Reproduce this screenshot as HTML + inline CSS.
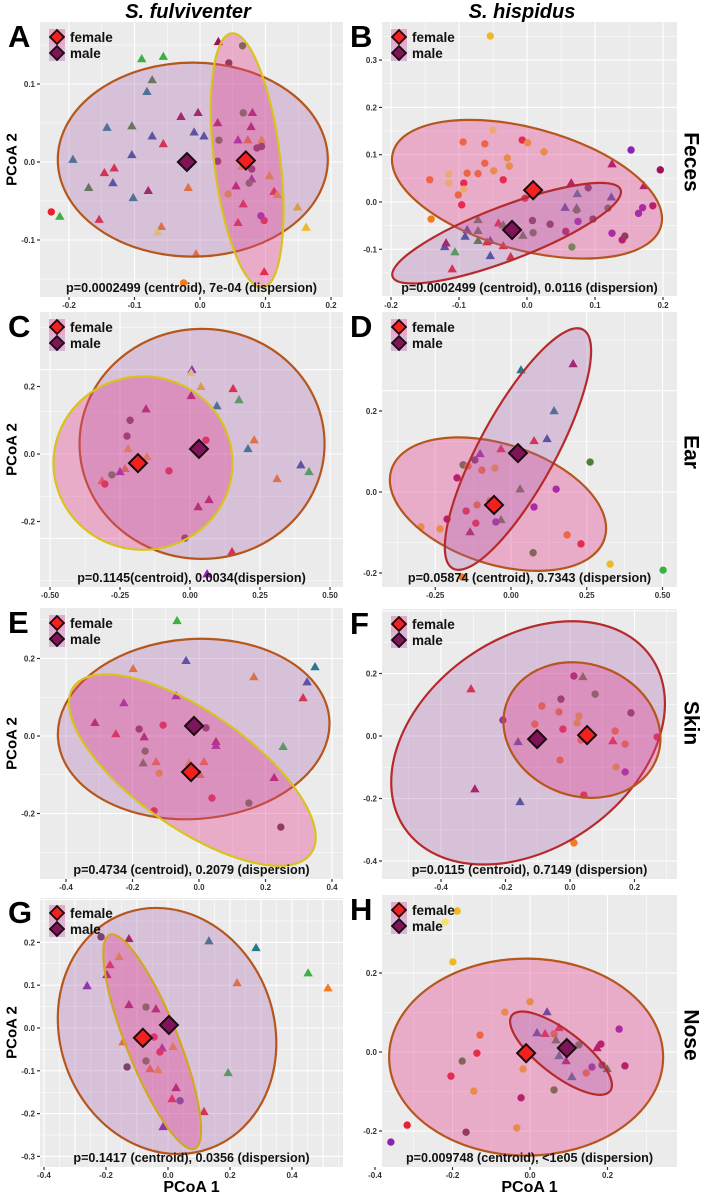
<!DOCTYPE html>
<html><head><meta charset="utf-8"><style>
html,body{margin:0;padding:0;background:#fff}
svg{display:block;font-family:"Liberation Sans",Arial,sans-serif}
</style></head><body>
<svg id="fig" width="709" height="1196" viewBox="0 0 709 1196" xmlns="http://www.w3.org/2000/svg">
</svg>
<script>
// ---- Panel A (S. fulviventer, feces) ----
const A_x=[.028,.065,-.089,-.056,.044,-.073,-.081,-.029,-.003,.066,.080,.027,.078,-.142,-.104,-.009,.006,-.073,.029,.058,.073,.094,.087,.094,-.056,-.104,-.194,.027,.064,.079,-.146,-.131,-.133,.106,.055,.079,.075,-.17,-.018,-.079,.113,.043,.118,-.102,.066,-.227,-.214,-.154,.058,.098,.093,.149,.162,-.059,-.065,-.006,.098,-.025];
const A_y=[.154,.149,.132,.135,.127,.105,.09,.058,.063,.063,.063,.05,.045,.044,.046,.038,.033,.033,.028,.028,.028,.028,.018,.020,.023,.009,.003,.001,-.006,-.009,-.014,-.008,-.027,-.018,-.031,-.022,-.027,-.033,-.033,-.037,-.038,-.041,-.042,-.046,-.054,-.064,-.07,-.074,-.078,-.075,-.069,-.058,-.084,-.083,-.09,-.118,-.141,-.155];
const A_c="mGggdGtmmGmmmtGbbbGpoyddrbtdydrrbympGGomryytrrgrrrpyyoYoro";
const A_s="tcttcttttcttttttttctttcctttctcttttttcttttctttctttccttttttct";
const A_cent=[[.07,.002],[-.02,0]];
const A_xt=[-0.2,-0.1,0,0.1,0.2], A_xl=["-0.2","-0.1","0.0","0.1","0.2"];
const A_yt=[-0.1,0,0.1], A_yl=["-0.1","0.0","0.1"];
// ---- Panel B ----
const B_x=[-.054,-.05,-.094,-.062,-.007,.001,.025,-.029,-.026,-.062,-.049,-.035,-.088,-.072,-.115,-.115,-.093,-.143,-.093,-.101,-.096,-.141,-.003,.065,.09,.074,.125,.172,.124,.153,.196,.185,.17,.164,.056,.073,.073,.119,.008,.034,.075,.097,.057,.125,.14,.144,.009,.066,-.042,-.072,-.072,-.072,-.035,-.006,-.088,-.091,-.054,-.059,-.035,-.121,-.119,-.106,-.054,-.024,-.11];
const B_y=[.351,.152,.127,.123,.131,.125,.106,.093,.076,.082,.066,.047,.061,.06,.059,.04,.04,.047,.027,.015,-.006,-.036,.008,.04,.03,.017,.08,.034,.01,.11,.068,-.008,-.012,-.024,-.012,-.013,-.017,-.013,-.039,-.047,-.041,-.036,-.062,-.066,-.08,-.072,-.065,-.095,-.045,-.038,-.061,-.082,-.049,-.071,-.059,-.073,-.082,-.085,-.093,-.095,-.087,-.106,-.114,-.116,-.142];
const B_c="yYooryyyyoyrooYYroYorormdtmmbpmmppbtGGddpdmpmdGgrGGGGGbbbrrbmgbrr";
const B_s="ccccccccccccccccccccccctcttttcccccttccccccccccccttttttttttttttttt";
const B_cent=[[.009,.025],[-.022,-.059]];
const B_xt=[-0.2,-0.1,0,0.1,0.2], B_xl=["-0.2","-0.1","0.0","0.1","0.2"];
const B_yt=[-0.1,0,0.1,0.2,0.3], B_yl=["-0.1","0.0","0.1","0.2","0.3"];
// ---- Panel C ----
const C_x=[.007,.004,.039,.154,.175,.004,.096,-.157,-.214,-.225,.057,.229,.207,-.221,-.154,-.075,-.232,-.25,-.279,-.314,-.304,.396,.425,.311,.068,.029,-.018,.15,.061];
const C_y=[.249,.24,.199,.193,.16,.172,.142,.133,.1,.053,.041,.041,.015,.015,-.009,-.05,-.044,-.053,-.062,-.08,-.089,-.033,-.053,-.074,-.136,-.157,-.249,-.29,-.356];
const C_c="pYyrgmtmddrotyyropGorbgommdrp";
const C_s="ttttttttcccttttcttctctttttctt";
const C_cent=[[-.186,-.027],[.032,.015]];
const C_xt=[-0.5,-0.25,0,0.25,0.5], C_xl=["-0.50","-0.25","0.00","0.25","0.50"];
const C_yt=[-0.2,0,0.2], C_yl=["-0.2","0.0","0.2"];
// ---- Panel D ----
const D_x=[.205,.033,.142,.076,.119,-.033,-.102,-.119,.261,-.158,-.142,-.096,-.053,-.178,.03,.149,-.069,-.112,-.148,.076,-.211,-.033,-.05,-.116,-.135,-.297,-.234,.185,.231,.073,.327,.502,-.162];
const D_y=[.316,.301,.2,.126,.131,.106,.094,.079,.074,.067,.064,.054,.059,.035,.007,.007,-.022,-.032,-.047,-.037,-.067,-.069,-.074,-.077,-.099,-.086,-.091,-.106,-.128,-.15,-.178,-.193,-.21];
const D_c="mttrbrpdGGooymGpoorpmGprmyyorGygo";
const D_s="tttttttccccccctcccccctcctcccccccc";
const D_cent=[[-.056,-.032],[.023,.096]];
const D_xt=[-0.25,0,0.25,0.5], D_xl=["-0.25","0.00","0.25","0.50"];
const D_yt=[-0.2,0,0.2], D_yl=["-0.2","0.0","0.2"];
// ---- Panel E ----
const E_x=[-.066,-.039,-.198,.165,.349,.325,.313,-.069,-.226,-.313,-.25,-.18,-.108,-.165,.021,-.162,.051,.051,.253,-.168,-.129,-.03,.015,-.12,.003,.226,.039,.15,-.135,.246];
const E_y=[.297,.194,.173,.152,.178,.139,.098,.103,.085,.034,.005,.018,.028,-.003,.021,-.039,-.015,-.025,-.028,-.07,-.067,-.07,-.067,-.096,-.1,-.108,-.16,-.173,-.193,-.235];
const E_c="gbootbrppmrdrmdGmpgGoyoyomrGrd";
const E_s="tttttttttttcctcctttttttcttcccc";
const E_cent=[[-.024,-.093],[-.015,.026]];
const E_xt=[-0.4,-0.2,0,0.2,0.4], E_xl=["-0.4","-0.2","0.0","0.2","0.4"];
const E_yt=[-0.2,0,0.2], E_yl=["-0.2","0.0","0.2"];
// ---- Panel F ----
const F_x=[.012,.04,.078,-.307,-.028,-.087,-.034,.028,.189,-.208,-.109,.022,-.022,.14,.27,-.161,.034,.133,.171,-.031,.143,.171,.043,-.295,-.155,.012];
const F_y=[.192,.189,.134,.15,.118,.096,.077,.064,.074,.051,.038,.042,.022,.016,-.003,-.019,-.013,-.016,-.026,-.077,-.099,-.115,-.189,-.17,-.211,-.342];
const F_c="mGGrdooydpoyrorborooyprmbo";
const F_s="ctctccccccccccctctcccccttc";
const F_cent=[[.053,.003],[-.102,-.01]];
const F_xt=[-0.4,-0.2,0,0.2], F_xl=["-0.4","-0.2","0.0","0.2"];
const F_yt=[-0.4,-0.2,0,0.2], F_yl=["-0.4","-0.2","0.0","0.2"];
// ---- Panel G ----
const G_x=[-.216,-.126,.132,.284,-.158,-.187,-.197,-.261,.452,.516,.223,-.126,-.071,-.039,-.045,-.145,-.019,.016,-.026,-.071,-.132,-.058,-.032,.194,.026,.013,.039,.116,-.016];
const G_y=[.213,.208,.203,.187,.166,.147,.124,.098,.128,.093,.105,.054,.049,.044,-.021,-.033,-.047,-.044,-.056,-.077,-.091,-.096,-.098,-.105,-.14,-.166,-.17,-.196,-.231];
const G_c="dmttyrmpgoomGmropyrGdoygmrbrp";
const G_s="ctttttttttttctctttccctttttcttt";
const G_cent=[[-.081,-.023],[.003,.007]];
const G_xt=[-0.4,-0.2,0,0.2,0.4], G_xl=["-0.4","-0.2","0.0","0.2","0.4"];
const G_yt=[-0.3,-0.2,-0.1,0,0.1,0.2], G_yl=["-0.3","-0.2","-0.1","0.0","0.1","0.2"];
// ---- Panel H ----
const H_x=[-.188,-.219,-.199,0,-.065,.044,.23,.018,.039,.075,.062,-.129,.067,.126,.183,.173,-.137,-.175,.075,.093,.16,.186,.199,.245,-.204,-.018,.108,.145,-.145,.062,-.023,-.317,-.034,-.165,-.359];
const H_y=[.357,.329,.228,.127,.101,.101,.058,.048,.046,.061,.046,.043,.03,.018,.02,.01,-.003,-.023,-.01,-.023,-.038,-.033,-.043,-.035,-.061,-.043,-.063,-.053,-.099,-.096,-.116,-.185,-.192,-.203,-.228];
const H_c="yYyyybpbrrooGGmmrGtmpdGmrytoyGmrydp";
const H_s="ccccctctttcctcctccttcctccctcccccccc";
const H_cent=[[-.01,-.003],[.095,.01]];
const H_xt=[-0.4,-0.2,0,0.2], H_xl=["-0.4","-0.2","0.0","0.2"];
const H_yt=[-0.2,0,0.2], H_yl=["-0.2","0.0","0.2"];

const COL={r:"#e8202e",o:"#f47a20",y:"#eeb826",Y:"#f2e46a",g:"#3cb044",G:"#4e7e3c",b:"#3c4ea0",t:"#2a7890",p:"#8a22b0",m:"#a0105a",d:"#6a3452"};
const FEM_FILL="rgba(228,62,142,0.36)", MAL_FILL="rgba(168,96,172,0.30)";
const BROWN="#b5561c", YEL="#d8c21e", RED="#b62a2c";

const P=[
 {id:"a",L:"A",x:A_x,y:A_y,c:A_c,s:A_s,cent:A_cent,xt:A_xt,xl:A_xl,yt:A_yt,yl:A_yl,l:40,r:343,t:22,b:297,x0:200,xs:655,y0:162,ys:780,gs:0.05,
  ell:[[-.011,.003,135,97,0,BROWN,MAL_FILL],[.072,.002,33,128,-7,YEL,FEM_FILL]],p:"p=0.0002499 (centroid), 7e-04 (dispersion)",strip:null},
 {id:"b",L:"B",x:B_x,y:B_y,c:B_c,s:B_s,cent:B_cent,xt:B_xt,xl:B_xl,yt:B_yt,yl:B_yl,l:382,r:677,t:22,b:297,x0:527,xs:680,y0:202,ys:473,gs:0.05,
  ell:[[0,.027,139,61,15.3,BROWN,FEM_FILL],[-.03,-.066,122,27,-20.9,RED,MAL_FILL]],p:"p=0.0002499 (centroid), 0.0116 (dispersion)",strip:["Feces",162]},
 {id:"c",L:"C",x:C_x,y:C_y,c:C_c,s:C_s,cent:C_cent,xt:C_xt,xl:C_xl,yt:C_yt,yl:C_yl,l:40,r:343,t:312,b:587,x0:190,xs:280,y0:454,ys:337.5,gs:0.125,
  ell:[[.043,.03,122.5,115,0,BROWN,MAL_FILL],[-.168,-.027,89.5,86.7,0,YEL,FEM_FILL]],p:"p=0.1145(centroid), 0.0034(dispersion)",strip:null},
 {id:"d",L:"D",x:D_x,y:D_y,c:D_c,s:D_s,cent:D_cent,xt:D_xt,xl:D_xl,yt:D_yt,yl:D_yl,l:382,r:677,t:312,b:587,x0:511,xs:303,y0:492,ys:405,gs:0.125,
  ell:[[-.043,-.03,112,60,18,BROWN,FEM_FILL],[.023,.106,136,38,-61.4,RED,MAL_FILL]],p:"p=0.05874 (centroid), 0.7343 (dispersion)",strip:["Ear",452]},
 {id:"e",L:"E",x:E_x,y:E_y,c:E_c,s:E_s,cent:E_cent,xt:E_xt,xl:E_xl,yt:E_yt,yl:E_yl,l:40,r:343,t:608,b:879,x0:199,xs:332.5,y0:736,ys:387.5,gs:0.1,
  ell:[[-.016,.018,136,90,-4,BROWN,MAL_FILL],[-.02,-.088,145,58,35,YEL,FEM_FILL]],p:"p=0.4734 (centroid), 0.2079 (dispersion)",strip:null},
 {id:"f",L:"F",x:F_x,y:F_y,c:F_c,s:F_s,cent:F_cent,xt:F_xt,xl:F_xl,yt:F_yt,yl:F_yl,l:382,r:677,t:609,b:879,x0:570,xs:322.5,y0:736,ys:312.5,gs:0.1,
  ell:[[-.13,-.022,150,105,-35,RED,MAL_FILL],[.037,.019,80,66,20,BROWN,FEM_FILL]],p:"p=0.0115 (centroid), 0.7149 (dispersion)",strip:["Skin",723]},
 {id:"g",L:"G",x:G_x,y:G_y,c:G_c,s:G_s,cent:G_cent,xt:G_xt,xl:G_xl,yt:G_yt,yl:G_yl,l:40,r:343,t:898,b:1167,x0:168,xs:310,y0:1028,ys:428,gs:0.05,
  ell:[[-.003,-.007,125,107,70,BROWN,MAL_FILL],[-.051,-.032,115,26,68.3,"#d0a824",FEM_FILL]],p:"p=0.1417 (centroid), 0.0356 (dispersion)",strip:null},
 {id:"h",L:"H",x:H_x,y:H_y,c:H_c,s:H_s,cent:H_cent,xt:H_xt,xl:H_xl,yt:H_yt,yl:H_yl,l:382,r:677,t:895,b:1167,x0:530,xs:387.5,y0:1052,ys:395,gs:0.1,
  ell:[[-.01,-.013,137,98.5,0,BROWN,FEM_FILL],[.08,-.003,62,22,37.6,RED,MAL_FILL]],p:"p=0.009748 (centroid), <1e05 (dispersion)",strip:["Nose",1035]}
];

const NS="http://www.w3.org/2000/svg";
const svg=document.getElementById("fig");
function mk(tag,attrs,parent){const e=document.createElementNS(NS,tag);for(const k in attrs)e.setAttribute(k,attrs[k]);(parent||svg).appendChild(e);return e;}
function sx(p,v){return p.x0+v*p.xs;}
function sy(p,v){return p.y0-v*p.ys;}

P.forEach(p=>{
  const g=mk("g",{});
  
  
  const cp=mk("clipPath",{id:"clip-"+p.id},g);
  mk("rect",{x:p.l,y:p.t,width:p.r-p.l,height:p.b-p.t},cp);
  const bg=mk("rect",{x:p.l,y:p.t,width:p.r-p.l,height:p.b-p.t,fill:"#ebebeb"},g);
  
  
  const grid=mk("g",{"clip-path":"url(#clip-"+p.id+")"},g);
  
  
  for(let k=-40;k<=40;k++){
    const v=k*p.gs; const isMaj=(k%2===0);
    const X=sx(p,v); if(X>p.l&&X<p.r) mk("line",{x1:X,x2:X,y1:p.t,y2:p.b,stroke:"#fff","stroke-width":isMaj?1.1:0.5},grid);
    const Y=sy(p,v); if(Y>p.t&&Y<p.b) mk("line",{x1:p.l,x2:p.r,y1:Y,y2:Y,stroke:"#fff","stroke-width":isMaj?1.1:0.5},grid);
  }
  const layer=mk("g",{"clip-path":"url(#clip-"+p.id+")"},g);
  p.x.forEach((xv,i)=>{
    const X=sx(p,xv),Y=sy(p,p.y[i]),col=COL[p.c[i]]||"#888";
    let el;
    if(p.s[i]==="t"){el=mk("path",{d:`M${X},${Y-5}L${X+4.7},${Y+3.2}L${X-4.7},${Y+3.2}Z`,fill:col},layer);
      }
    else {el=mk("circle",{cx:X,cy:Y,r:3.7,fill:col},layer);
      }
    
  });
  p.ell.forEach((e,i)=>{
    const X=sx(p,e[0]),Y=sy(p,e[1]);
    const el=mk("ellipse",{cx:X,cy:Y,rx:e[2],ry:e[3],transform:`rotate(${e[4]} ${X} ${Y})`,fill:e[6],stroke:e[5],"stroke-width":2.2},layer);
    
    
  });
  p.cent.forEach((c,i)=>{
    const X=sx(p,c[0]),Y=sy(p,c[1]);
    const el=mk("path",{d:`M${X},${Y-9}L${X+9},${Y}L${X},${Y+9}L${X-9},${Y}Z`,fill:i===0?"#f2201e":"#801458",stroke:"#1a0a10","stroke-width":2},layer);
    
    
  });
  const lg=mk("g",{},g);
  
  
  ["female","male"].forEach((lab,i)=>{
    const cx=p.l+17, cy=p.t+15+i*16;
    mk("rect",{x:cx-8,y:cy-8,width:16,height:16,fill:i===0?"#e9a8c8":"#d8b6d6"},lg);
    mk("path",{d:`M${cx},${cy-7}L${cx+7},${cy}L${cx},${cy+7}L${cx-7},${cy}Z`,fill:i===0?"#f2201e":"#801458",stroke:"#1a0a10","stroke-width":1.8},lg);
    const t=mk("text",{x:cx+13,y:cy+5,"font-size":13.5,"font-weight":"bold",fill:"#111"},lg);
    t.textContent=lab;
    
    
  });
  const pt=mk("text",{x:(p.l+p.r)/2,y:p.b-5,"text-anchor":"middle","font-size":12.6,"font-weight":"bold",fill:"#111"},g);
  pt.textContent=p.p;
  
  
  p.xt.forEach((v,i)=>{
    const X=sx(p,v);
    mk("line",{x1:X,x2:X,y1:p.b,y2:p.b+3,stroke:"#333","stroke-width":1.2},g);
    const t=mk("text",{x:X,y:p.b+11,"text-anchor":"middle","font-size":8,"font-weight":"bold",fill:"#333"},g);
    t.textContent=p.xl[i];
    
    
  });
  p.yt.forEach((v,i)=>{
    const Y=sy(p,v);
    mk("line",{x1:p.l-3,x2:p.l,y1:Y,y2:Y,stroke:"#333","stroke-width":1.2},g);
    const t=mk("text",{x:p.l-5,y:Y+3,"text-anchor":"end","font-size":8,"font-weight":"bold",fill:"#333"},g);
    t.textContent=p.yl[i];
    
    
  });
  const L=mk("text",{x:p.l-32,y:p.t+25,"font-size":31,"font-weight":"bold",fill:"#000"},g);
  L.textContent=p.L;
  
  
  if(p.l<100){
    const cy=(p.t+p.b)/2;
    const yt=mk("text",{x:12,y:cy,transform:`rotate(-90 12 ${cy})`,"text-anchor":"middle","dominant-baseline":"central","font-size":15,"font-weight":"bold",fill:"#000"},g);
    yt.textContent="PCoA 2";
    
    
  }
  if(p.strip){
    const st=mk("text",{x:691,y:p.strip[1],transform:`rotate(90 691 ${p.strip[1]})`,"text-anchor":"middle","dominant-baseline":"central","font-size":21,"font-weight":"bold",fill:"#000"},g);
    st.textContent=p.strip[0];
    
    
  }
  if(p.id==="g"||p.id==="h"){
    const xt=mk("text",{x:(p.l+p.r)/2,y:1192,"text-anchor":"middle","font-size":16,"font-weight":"bold",fill:"#000"},g);
    xt.textContent="PCoA 1";
    
    
  }
});
// column titles drawn last so nothing covers them
const t1=mk("text",{x:188,y:18,"text-anchor":"middle","font-size":20,"font-weight":"bold","font-style":"italic",fill:"#000"});
t1.textContent="S. fulviventer";


const t2=mk("text",{x:522,y:18,"text-anchor":"middle","font-size":20,"font-weight":"bold","font-style":"italic",fill:"#000"});
t2.textContent="S. hispidus";


</script>
</body></html>
